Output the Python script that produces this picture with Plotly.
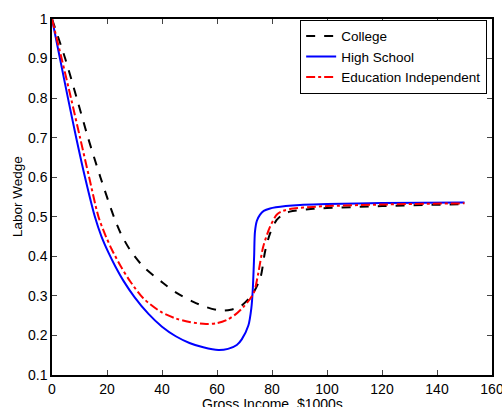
import plotly.graph_objects as go

# College (black dashed)
college_x = [0, 4.8, 9.0, 13.1, 17.6, 22.5, 25, 28.4, 33.2, 40.5, 45, 51.4, 56, 61.1, 65, 68.4, 71.4, 73.8, 75.9, 77.5, 79.3, 81.7, 84, 86.5, 95, 100, 120, 150]
college_y = [1.0, 0.9, 0.8, 0.7, 0.6, 0.5, 0.458, 0.416, 0.374, 0.332, 0.309, 0.285, 0.272, 0.263, 0.265, 0.273, 0.292, 0.315, 0.349, 0.413, 0.458, 0.492, 0.506, 0.513, 0.52, 0.522, 0.527, 0.532]

# High School (blue solid)
hs_x = [0, 2.9, 5.8, 8.8, 12, 15.6, 18, 20.5, 23, 26, 30, 35, 40, 45, 50, 55, 60.5, 64, 67.2, 69, 71.4, 72.5, 73, 73.5, 73.8, 74.5, 75.6, 77, 79.3, 85, 90.2, 100, 120, 150]
hs_y = [1.0, 0.9, 0.8, 0.7, 0.6, 0.5, 0.45, 0.41, 0.375, 0.338, 0.297, 0.255, 0.222, 0.198, 0.181, 0.17, 0.163, 0.166, 0.176, 0.19, 0.225, 0.27, 0.315, 0.4, 0.462, 0.49, 0.505, 0.515, 0.521, 0.527, 0.53, 0.532, 0.535, 0.536]

# Education Independent (red dash-dot)
ei_x = [0, 3.5, 6.9, 10.2, 13.5, 16.9, 19.5, 21.7, 25, 28.4, 33.2, 39.5, 45, 50, 56, 60, 63.5, 66.5, 69.6, 72, 73.5, 75, 76.8, 79.3, 81.7, 84, 87.8, 95, 100, 120, 150]
ei_y = [1.0, 0.9, 0.8, 0.7, 0.6, 0.5, 0.452, 0.418, 0.375, 0.337, 0.294, 0.26, 0.243, 0.234, 0.229, 0.231, 0.239, 0.252, 0.272, 0.292, 0.31, 0.357, 0.424, 0.475, 0.505, 0.515, 0.521, 0.525, 0.527, 0.531, 0.534]

x_ticks = [0, 20, 40, 60, 80, 100, 120, 140, 160]
y_ticks = [0.1, 0.2, 0.3, 0.4, 0.5, 0.6, 0.7, 0.8, 0.9, 1.0]
y_ticktext = ["0.1", "0.2", "0.3", "0.4", "0.5", "0.6", "0.7", "0.8", "0.9", "1"]

fig = go.Figure()
fig.add_trace(go.Scatter(x=college_x, y=college_y, mode="lines", name="College",
                         line=dict(color="black", width=2, dash="dash", shape="spline", smoothing=0.8)))
fig.add_trace(go.Scatter(x=hs_x, y=hs_y, mode="lines", name="High School",
                         line=dict(color="#0000ff", width=2, shape="spline", smoothing=0.8)))
fig.add_trace(go.Scatter(x=ei_x, y=ei_y, mode="lines", name="Education Independent",
                         line=dict(color="#ff0000", width=2, dash="dashdot", shape="spline", smoothing=0.8)))

font_family = "Liberation Sans, Arial, sans-serif"
fig.update_layout(
    width=502, height=407,
    margin=dict(l=52, r=10, t=19, b=32),
    paper_bgcolor="white", plot_bgcolor="white",
    font=dict(family=font_family, size=14, color="black"),
    showlegend=True,
    legend=dict(x=0.989, y=0.998, xanchor="right", yanchor="top",
                bordercolor="black", borderwidth=1, bgcolor="white",
                font=dict(size=13.5), itemwidth=30, tracegroupgap=0),
    xaxis=dict(range=[0, 160], tickvals=x_ticks, ticks="inside", ticklen=5,
               showline=True, linecolor="black", linewidth=1.5, mirror="ticks",
               showgrid=False, zeroline=False, tickfont=dict(size=14),
               ticklabeloverflow="allow", automargin=False),
    yaxis=dict(range=[0.1, 1.0], tickvals=y_ticks, ticktext=y_ticktext, ticks="inside", ticklen=5,
               showline=True, linecolor="black", linewidth=1.5, mirror="ticks",
               showgrid=False, zeroline=False, tickfont=dict(size=14),
               automargin=False),
    annotations=[
        dict(text="Gross Income, $1000s", xref="paper", yref="paper",
             x=0.5, y=0, xanchor="center", yanchor="top", yshift=-19,
             showarrow=False, font=dict(size=14)),
        dict(text="Labor Wedge", xref="paper", yref="paper", textangle=-90,
             x=-0.0795, y=0.5, xanchor="center", yanchor="middle",
             showarrow=False, font=dict(size=13.5)),
    ],
)

fig.write_html("out.html")
